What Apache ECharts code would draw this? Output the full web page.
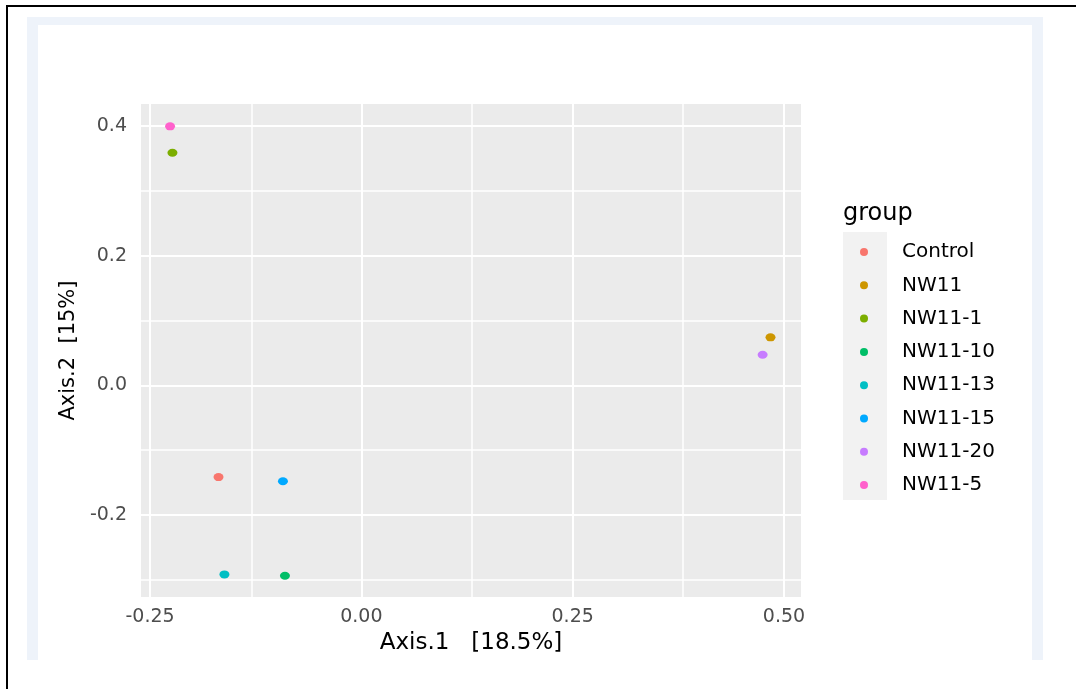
<!DOCTYPE html>
<html><head><meta charset="utf-8">
<script src="https://cdn.jsdelivr.net/npm/echarts@6/dist/echarts.min.js"></script>
<style>
html,body{margin:0;padding:0;background:#fff;}
#wrap{position:relative;width:1076px;height:689px;overflow:hidden;}
.bx{position:absolute;}
#c{position:absolute;left:0;top:0;width:1076px;height:689px;}
</style>
</head><body>
<div id="wrap">
  <div class="bx" style="left:7px;top:5px;width:1069px;height:2px;background:#000"></div>
  <div class="bx" style="left:6px;top:5px;width:2px;height:684px;background:#000"></div>
  <div class="bx" style="left:27px;top:17px;width:1016px;height:643px;background:#EEF3FA"></div>
  <div class="bx" style="left:38px;top:25px;width:994px;height:635px;background:#fff"></div>
  <div class="bx" style="left:843px;top:232px;width:44px;height:268px;background:#F2F2F2"></div>
  <div id="c"></div>
</div>
<script>
const groups = ['Control','NW11','NW11-1','NW11-10','NW11-13','NW11-15','NW11-20','NW11-5'];
const axis1 = [-0.169, 0.484, -0.2235, -0.0904, -0.162, -0.0928, 0.4747, -0.2263];
const axis2 = [-0.1415, 0.074, 0.3588, -0.2937, -0.2916, -0.148, 0.0472, 0.3995];
const colors = ['#F8766D','#CD9600','#7CAE00','#00BE67','#00BFC4','#00A9FF','#C77CFF','#FF61CC'];
const xTicks = [-0.25, 0, 0.25, 0.5];
const xMinor = [-0.125, 0.125, 0.375];
const yTicks = [-0.2, 0, 0.2, 0.4];
const yMinor = [-0.3, -0.1, 0.1, 0.3];
const xTitle = 'Axis.1   [18.5%]';
const yTitle = 'Axis.2  [15%]';
const legendTitle = 'group';

const FONT = 'DejaVu Sans';
const chart = echarts.init(document.getElementById('c'));

const gridLines = [];
xTicks.forEach(v => gridLines.push({xAxis: v, lineStyle: {width: 2}}));
xMinor.forEach(v => gridLines.push({xAxis: v, lineStyle: {width: 1.5}}));
yTicks.forEach(v => gridLines.push({yAxis: v, lineStyle: {width: 2}}));
yMinor.forEach(v => gridLines.push({yAxis: v, lineStyle: {width: 1.5}}));

const series = [{
  type: 'scatter', name: '__grid', data: [], silent: true, z: 1,
  markLine: {
    silent: true, symbol: ['none','none'], animation: false,
    label: {show: false},
    lineStyle: {color: '#FFFFFF', type: 'solid'},
    emphasis: {disabled: true},
    data: gridLines
  }
}];
groups.forEach((g, i) => {
  series.push({
    type: 'scatter', name: g, z: 5,
    symbol: 'circle', symbolSize: [10, 8],
    itemStyle: {color: colors[i], opacity: 1},
    data: [[axis1[i], axis2[i]]]
  });
});

chart.setOption({
  animation: false,
  backgroundColor: 'transparent',
  color: colors,
  title: {text: legendTitle, left: 843, top: 202, padding: 0,
    textStyle: {fontFamily: FONT, fontSize: 24, fontWeight: 'normal', color: '#000'}},
  grid: {left: 141, top: 104, width: 660, height: 493, show: true,
    backgroundColor: '#EBEBEB', borderWidth: 0, containLabel: false},
  xAxis: {
    type: 'value', min: -0.2607, max: 0.5201,
    name: xTitle, nameLocation: 'middle', nameGap: 31,
    nameTextStyle: {fontFamily: FONT, fontSize: 23, color: '#000'},
    axisLine: {show: false},
    axisTick: {show: true, length: 6, customValues: xTicks, lineStyle: {color: '#333', width: 1}},
    axisLabel: {customValues: xTicks, margin: 11, fontFamily: FONT, fontSize: 19, color: '#4D4D4D',
      formatter: v => v.toFixed(2)},
    splitLine: {show: false}
  },
  yAxis: {
    type: 'value', min: -0.3265, max: 0.434,
    name: yTitle, nameLocation: 'middle', nameRotate: 90, nameGap: 60,
    nameTextStyle: {fontFamily: FONT, fontSize: 21, color: '#000'},
    axisLine: {show: false},
    axisTick: {show: true, length: 7, customValues: yTicks, lineStyle: {color: '#333', width: 1}},
    axisLabel: {customValues: yTicks, margin: 14, fontFamily: FONT, fontSize: 19, color: '#4D4D4D',
      formatter: v => v.toFixed(1)},
    splitLine: {show: false}
  },
  legend: {
    data: groups, orient: 'vertical', left: 860, top: 242, padding: 0,
    icon: 'circle', itemWidth: 10, itemHeight: 8, itemGap: 13.3,
    selectedMode: false,
    textStyle: {fontFamily: FONT, fontSize: 20, color: '#000', lineHeight: 16, padding: [0, 0, 0, 28]}
  },
  series: series
});
</script>
</body></html>
